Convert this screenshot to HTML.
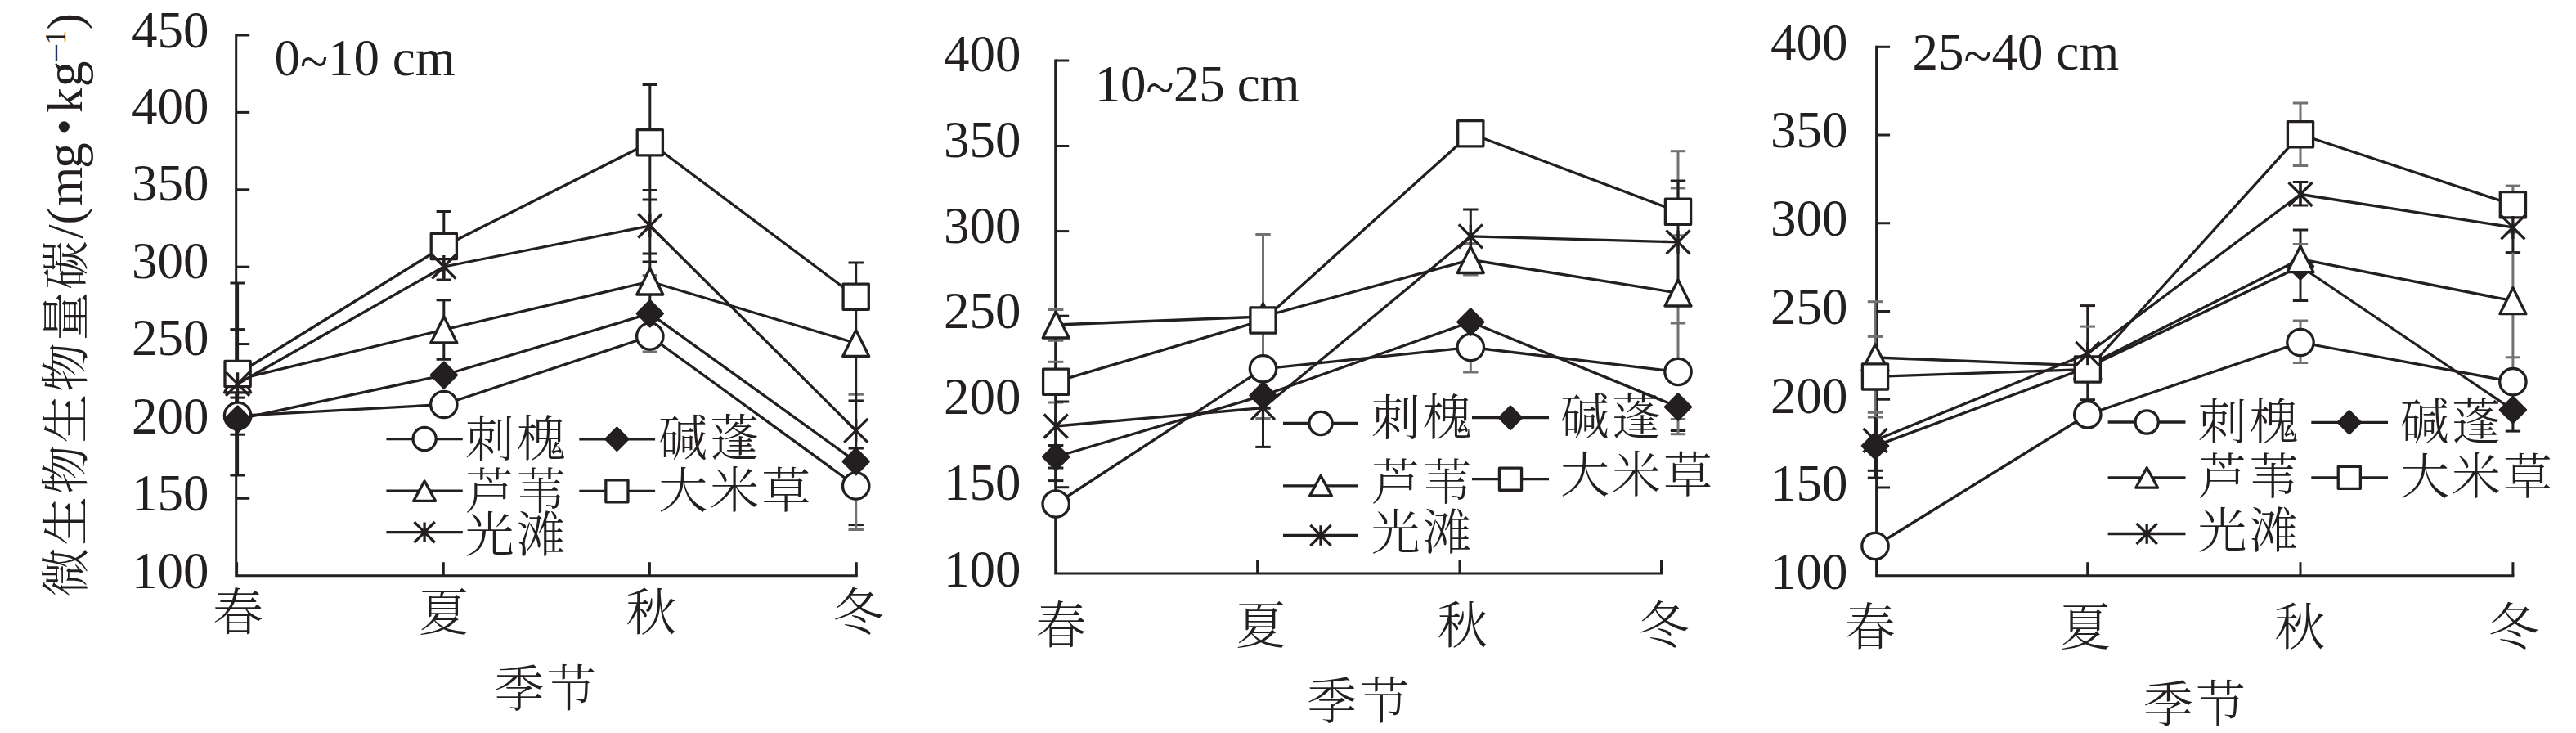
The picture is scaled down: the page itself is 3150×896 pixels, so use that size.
<!DOCTYPE html>
<html lang="zh-CN">
<head>
<meta charset="utf-8">
<title>不同季节土壤微生物生物量碳</title>
<style>
html,body{margin:0;padding:0;background:#fff;}
body{width:3150px;height:896px;overflow:hidden;}
svg{display:block;}
text{white-space:pre;}
</style>
</head>
<body>
<svg width="3150" height="896" viewBox="0 0 3150 896">
<rect width="3150" height="896" fill="#fff"/>
<g>
<path d="M288.7 41.5V703.7H1048.8" fill="none" stroke="#231f20" stroke-width="3" stroke-linejoin="miter"/>
<line x1="290.6" y1="346" x2="290.6" y2="581" stroke="#231f20" stroke-width="3"/>
<line x1="281.4" y1="346" x2="299.8" y2="346" stroke="#231f20" stroke-width="3"/>
<line x1="281.4" y1="402.6" x2="299.8" y2="402.6" stroke="#231f20" stroke-width="3"/>
<line x1="281.4" y1="486.1" x2="299.8" y2="486.1" stroke="#231f20" stroke-width="3"/>
<line x1="281.4" y1="531.2" x2="299.8" y2="531.2" stroke="#231f20" stroke-width="3"/>
<line x1="281.4" y1="581" x2="299.8" y2="581" stroke="#231f20" stroke-width="3"/>
<line x1="542.8" y1="258.5" x2="542.8" y2="342" stroke="#231f20" stroke-width="3"/>
<line x1="533.6" y1="258.5" x2="552" y2="258.5" stroke="#231f20" stroke-width="3"/>
<line x1="533.6" y1="342" x2="552" y2="342" stroke="#231f20" stroke-width="3"/>
<line x1="542.8" y1="366.8" x2="542.8" y2="439.3" stroke="#231f20" stroke-width="3"/>
<line x1="533.6" y1="366.8" x2="552" y2="366.8" stroke="#231f20" stroke-width="3"/>
<line x1="533.6" y1="439.3" x2="552" y2="439.3" stroke="#231f20" stroke-width="3"/>
<line x1="794.8" y1="103.5" x2="794.8" y2="400" stroke="#231f20" stroke-width="3"/>
<line x1="785.6" y1="103.5" x2="804" y2="103.5" stroke="#231f20" stroke-width="3"/>
<line x1="785.6" y1="232.5" x2="804" y2="232.5" stroke="#231f20" stroke-width="3"/>
<line x1="785.6" y1="244" x2="804" y2="244" stroke="#231f20" stroke-width="3"/>
<line x1="785.6" y1="310" x2="804" y2="310" stroke="#231f20" stroke-width="3"/>
<line x1="785.6" y1="320" x2="804" y2="320" stroke="#231f20" stroke-width="3"/>
<line x1="785.6" y1="336.5" x2="804" y2="336.5" stroke="#717173" stroke-width="3"/>
<line x1="794.8" y1="411" x2="794.8" y2="430" stroke="#717173" stroke-width="3"/>
<line x1="785.6" y1="430" x2="804" y2="430" stroke="#717173" stroke-width="3"/>
<line x1="1037.5" y1="482.2" x2="1055.9" y2="482.2" stroke="#717173" stroke-width="3"/>
<line x1="1046.7" y1="321" x2="1046.7" y2="594" stroke="#231f20" stroke-width="3"/>
<line x1="1037.5" y1="321" x2="1055.9" y2="321" stroke="#231f20" stroke-width="3"/>
<line x1="1037.5" y1="489.9" x2="1055.9" y2="489.9" stroke="#231f20" stroke-width="3"/>
<line x1="1037.5" y1="548" x2="1055.9" y2="548" stroke="#231f20" stroke-width="3"/>
<line x1="1037.5" y1="641.6" x2="1055.9" y2="641.6" stroke="#231f20" stroke-width="3"/>
<line x1="1046.7" y1="594" x2="1046.7" y2="647.5" stroke="#717173" stroke-width="3"/>
<line x1="1037.5" y1="647.5" x2="1055.9" y2="647.5" stroke="#717173" stroke-width="3"/>
<text x="255.5" y="719" font-size="63" font-family='"Liberation Serif",serif' text-anchor="end" fill="#231f20">100</text>
<line x1="288.7" y1="609.31" x2="305.2" y2="609.31" stroke="#231f20" stroke-width="3"/>
<text x="255.5" y="624" font-size="63" font-family='"Liberation Serif",serif' text-anchor="end" fill="#231f20">150</text>
<line x1="288.7" y1="514.93" x2="305.2" y2="514.93" stroke="#231f20" stroke-width="3"/>
<text x="255.5" y="530" font-size="63" font-family='"Liberation Serif",serif' text-anchor="end" fill="#231f20">200</text>
<line x1="288.7" y1="420.54" x2="305.2" y2="420.54" stroke="#231f20" stroke-width="3"/>
<text x="255.5" y="434" font-size="63" font-family='"Liberation Serif",serif' text-anchor="end" fill="#231f20">250</text>
<line x1="288.7" y1="326.16" x2="305.2" y2="326.16" stroke="#231f20" stroke-width="3"/>
<text x="255.5" y="340" font-size="63" font-family='"Liberation Serif",serif' text-anchor="end" fill="#231f20">300</text>
<line x1="288.7" y1="231.77" x2="305.2" y2="231.77" stroke="#231f20" stroke-width="3"/>
<text x="255.5" y="245" font-size="63" font-family='"Liberation Serif",serif' text-anchor="end" fill="#231f20">350</text>
<line x1="288.7" y1="137.39" x2="305.2" y2="137.39" stroke="#231f20" stroke-width="3"/>
<text x="255.5" y="151" font-size="63" font-family='"Liberation Serif",serif' text-anchor="end" fill="#231f20">400</text>
<line x1="288.7" y1="43" x2="305.2" y2="43" stroke="#231f20" stroke-width="3"/>
<text x="255.5" y="57.5" font-size="63" font-family='"Liberation Serif",serif' text-anchor="end" fill="#231f20">450</text>
<line x1="289.6" y1="703.7" x2="289.6" y2="687.2" stroke="#231f20" stroke-width="3"/>
<line x1="542.3" y1="703.7" x2="542.3" y2="687.2" stroke="#231f20" stroke-width="3"/>
<line x1="794.4" y1="703.7" x2="794.4" y2="687.2" stroke="#231f20" stroke-width="3"/>
<line x1="1047.3" y1="703.7" x2="1047.3" y2="687.2" stroke="#231f20" stroke-width="3"/>
<text x="290.9" y="771.3" font-size="62" font-family='"Liberation Serif","Noto Serif CJK SC",serif' text-anchor="middle" fill="#231f20" font-weight="300">春</text>
<text x="542.8" y="771.3" font-size="62" font-family='"Liberation Serif","Noto Serif CJK SC",serif' text-anchor="middle" fill="#231f20" font-weight="300">夏</text>
<text x="796.2" y="771.3" font-size="62" font-family='"Liberation Serif","Noto Serif CJK SC",serif' text-anchor="middle" fill="#231f20" font-weight="300">秋</text>
<text x="1049.6" y="771.3" font-size="62" font-family='"Liberation Serif","Noto Serif CJK SC",serif' text-anchor="middle" fill="#231f20" font-weight="300">冬</text>
<text x="335.5" y="92.3" font-size="63" font-family='"Liberation Serif",serif' text-anchor="start" fill="#231f20">0<tspan dy="5">~</tspan><tspan dy="-5">10 cm</tspan></text>
<text x="668.6" y="863.5" font-size="61" font-family='"Liberation Serif","Noto Serif CJK SC",serif' text-anchor="middle" fill="#231f20" letter-spacing="3" font-weight="300">季节</text>
<polyline points="290.6,508.3 542.8,494.5 794.8,411 1046.7,594" fill="none" stroke="#231f20" stroke-width="3.3" stroke-linejoin="round"/>
<circle cx="290.6" cy="508.3" r="16.2" fill="#fff" stroke="#231f20" stroke-width="3.3"/>
<circle cx="542.8" cy="494.5" r="16.2" fill="#fff" stroke="#231f20" stroke-width="3.3"/>
<circle cx="794.8" cy="411" r="16.2" fill="#fff" stroke="#231f20" stroke-width="3.3"/>
<circle cx="1046.7" cy="594" r="16.2" fill="#fff" stroke="#231f20" stroke-width="3.3"/>
<polyline points="290.6,512.6 542.8,458.5 794.8,383.2 1046.7,564.3" fill="none" stroke="#231f20" stroke-width="3.3" stroke-linejoin="round"/>
<path d="M290.6 496.9L306.3 512.6L290.6 528.3L274.9 512.6z" fill="#231f20" stroke="#231f20" stroke-width="3" stroke-linejoin="round"/>
<path d="M542.8 442.8L558.5 458.5L542.8 474.2L527.1 458.5z" fill="#231f20" stroke="#231f20" stroke-width="3" stroke-linejoin="round"/>
<path d="M794.8 367.5L810.5 383.2L794.8 398.9L779.1 383.2z" fill="#231f20" stroke="#231f20" stroke-width="3" stroke-linejoin="round"/>
<path d="M1046.7 548.6L1062.4 564.3L1046.7 580L1031 564.3z" fill="#231f20" stroke="#231f20" stroke-width="3" stroke-linejoin="round"/>
<polyline points="290.6,463.8 542.8,403 794.8,344 1046.7,419.5" fill="none" stroke="#231f20" stroke-width="3.3" stroke-linejoin="round"/>
<path d="M290.6 447.8L306.6 479.8L274.6 479.8z" fill="#fff" stroke="#231f20" stroke-width="3.3" stroke-linejoin="round"/>
<path d="M542.8 387L558.8 419L526.8 419z" fill="#fff" stroke="#231f20" stroke-width="3.3" stroke-linejoin="round"/>
<path d="M794.8 328L810.8 360L778.8 360z" fill="#fff" stroke="#231f20" stroke-width="3.3" stroke-linejoin="round"/>
<path d="M1046.7 403.5L1062.7 435.5L1030.7 435.5z" fill="#fff" stroke="#231f20" stroke-width="3.3" stroke-linejoin="round"/>
<polyline points="290.6,457 542.8,301 794.8,174.2 1046.7,362.7" fill="none" stroke="#231f20" stroke-width="3.3" stroke-linejoin="round"/>
<rect x="275" y="441.4" width="31.2" height="31.2" fill="#fff" stroke="#231f20" stroke-width="3.3" stroke-linejoin="round"/>
<rect x="527.2" y="285.4" width="31.2" height="31.2" fill="#fff" stroke="#231f20" stroke-width="3.3" stroke-linejoin="round"/>
<rect x="779.2" y="158.6" width="31.2" height="31.2" fill="#fff" stroke="#231f20" stroke-width="3.3" stroke-linejoin="round"/>
<rect x="1031.1" y="347.1" width="31.2" height="31.2" fill="#fff" stroke="#231f20" stroke-width="3.3" stroke-linejoin="round"/>
<polyline points="290.6,469.3 542.8,326 794.8,276 1046.7,526.3" fill="none" stroke="#231f20" stroke-width="3.3" stroke-linejoin="round"/>
<path d="M276.1 454.8L305.1 483.8M276.1 483.8L305.1 454.8M290.6 455.3L290.6 483.3" fill="none" stroke="#231f20" stroke-width="3.3"/>
<path d="M528.3 311.5L557.3 340.5M528.3 340.5L557.3 311.5M542.8 312L542.8 340" fill="none" stroke="#231f20" stroke-width="3.3"/>
<path d="M780.3 261.5L809.3 290.5M780.3 290.5L809.3 261.5M794.8 262L794.8 290" fill="none" stroke="#231f20" stroke-width="3.3"/>
<path d="M1032.2 511.8L1061.2 540.8M1032.2 540.8L1061.2 511.8M1046.7 512.3L1046.7 540.3" fill="none" stroke="#231f20" stroke-width="3.3"/>
<line x1="472.4" y1="536.6" x2="565.8" y2="536.6" stroke="#231f20" stroke-width="3.3"/>
<circle cx="519.1" cy="536.6" r="14.09" fill="#fff" stroke="#231f20" stroke-width="3.3"/>
<text x="568.7" y="557.5" font-size="60" font-family='"Liberation Serif","Noto Serif CJK SC",serif' text-anchor="start" fill="#231f20" letter-spacing="3" font-weight="300">刺槐</text>
<line x1="472.4" y1="600.2" x2="565.8" y2="600.2" stroke="#231f20" stroke-width="3.3"/>
<path d="M519.1 588L532.5 612.4L505.7 612.4z" fill="#fff" stroke="#231f20" stroke-width="3.3" stroke-linejoin="round"/>
<text x="568.7" y="621.8" font-size="60" font-family='"Liberation Serif","Noto Serif CJK SC",serif' text-anchor="start" fill="#231f20" letter-spacing="3" font-weight="300">芦苇</text>
<line x1="472.4" y1="650.6" x2="565.8" y2="650.6" stroke="#231f20" stroke-width="3.3"/>
<path d="M506.49 637.99L531.72 663.22M506.49 663.22L531.72 637.99M519.1 638.42L519.1 662.78" fill="none" stroke="#231f20" stroke-width="3.3"/>
<text x="568.7" y="675" font-size="60" font-family='"Liberation Serif","Noto Serif CJK SC",serif' text-anchor="start" fill="#231f20" letter-spacing="3" font-weight="300">光滩</text>
<line x1="708.3" y1="536.8" x2="801.1" y2="536.8" stroke="#231f20" stroke-width="3.3"/>
<path d="M754.4 523.14L768.06 536.8L754.4 550.46L740.74 536.8z" fill="#231f20" stroke="#231f20" stroke-width="3" stroke-linejoin="round"/>
<text x="805.3" y="557" font-size="60" font-family='"Liberation Serif","Noto Serif CJK SC",serif' text-anchor="start" fill="#231f20" letter-spacing="3" font-weight="300">碱蓬</text>
<line x1="708.3" y1="600.3" x2="801.1" y2="600.3" stroke="#231f20" stroke-width="3.3"/>
<rect x="740.83" y="586.73" width="27.14" height="27.14" fill="#fff" stroke="#231f20" stroke-width="3.3" stroke-linejoin="round"/>
<text x="805.3" y="621.3" font-size="60" font-family='"Liberation Serif","Noto Serif CJK SC",serif' text-anchor="start" fill="#231f20" letter-spacing="3" font-weight="300">大米草</text>
</g>
<g>
<path d="M1290.7 72.5V701H2033" fill="none" stroke="#231f20" stroke-width="3" stroke-linejoin="miter"/>
<line x1="1282" y1="378.5" x2="1300.4" y2="378.5" stroke="#717173" stroke-width="3"/>
<line x1="1282" y1="416.3" x2="1300.4" y2="416.3" stroke="#717173" stroke-width="3"/>
<line x1="1282" y1="442.3" x2="1300.4" y2="442.3" stroke="#717173" stroke-width="3"/>
<line x1="1282" y1="492" x2="1300.4" y2="492" stroke="#717173" stroke-width="3"/>
<line x1="1291.2" y1="443.5" x2="1291.2" y2="595" stroke="#231f20" stroke-width="3"/>
<line x1="1282" y1="544.5" x2="1300.4" y2="544.5" stroke="#231f20" stroke-width="3"/>
<line x1="1282" y1="572" x2="1300.4" y2="572" stroke="#231f20" stroke-width="3"/>
<line x1="1282" y1="587.6" x2="1300.4" y2="587.6" stroke="#231f20" stroke-width="3"/>
<line x1="1544.5" y1="286.5" x2="1544.5" y2="511.5" stroke="#717173" stroke-width="3"/>
<line x1="1535.3" y1="286.5" x2="1553.7" y2="286.5" stroke="#717173" stroke-width="3"/>
<line x1="1535.3" y1="511.5" x2="1553.7" y2="511.5" stroke="#717173" stroke-width="3"/>
<line x1="1544.5" y1="483.5" x2="1544.5" y2="546.4" stroke="#231f20" stroke-width="3"/>
<line x1="1535.3" y1="499.2" x2="1553.7" y2="499.2" stroke="#231f20" stroke-width="3"/>
<line x1="1535.3" y1="546.4" x2="1553.7" y2="546.4" stroke="#231f20" stroke-width="3"/>
<line x1="1798.3" y1="256" x2="1798.3" y2="290" stroke="#231f20" stroke-width="3"/>
<line x1="1789.1" y1="256" x2="1807.5" y2="256" stroke="#231f20" stroke-width="3"/>
<line x1="1789.1" y1="297.5" x2="1807.5" y2="297.5" stroke="#717173" stroke-width="3"/>
<line x1="1798.3" y1="317" x2="1798.3" y2="336" stroke="#717173" stroke-width="3"/>
<line x1="1789.1" y1="336" x2="1807.5" y2="336" stroke="#717173" stroke-width="3"/>
<line x1="1798.3" y1="424.5" x2="1798.3" y2="455" stroke="#717173" stroke-width="3"/>
<line x1="1789.1" y1="455" x2="1807.5" y2="455" stroke="#717173" stroke-width="3"/>
<line x1="2052" y1="184.7" x2="2052" y2="258" stroke="#717173" stroke-width="3"/>
<line x1="2042.8" y1="184.7" x2="2061.2" y2="184.7" stroke="#717173" stroke-width="3"/>
<line x1="2042.8" y1="229.9" x2="2061.2" y2="229.9" stroke="#717173" stroke-width="3"/>
<line x1="2042.8" y1="287.8" x2="2061.2" y2="287.8" stroke="#717173" stroke-width="3"/>
<line x1="2052" y1="221" x2="2052" y2="358" stroke="#231f20" stroke-width="3"/>
<line x1="2042.8" y1="221" x2="2061.2" y2="221" stroke="#231f20" stroke-width="3"/>
<line x1="2052" y1="358" x2="2052" y2="454.5" stroke="#717173" stroke-width="3"/>
<line x1="2042.8" y1="395" x2="2061.2" y2="395" stroke="#717173" stroke-width="3"/>
<line x1="2042.8" y1="526.5" x2="2061.2" y2="526.5" stroke="#231f20" stroke-width="3"/>
<line x1="2052" y1="497.5" x2="2052" y2="530.7" stroke="#717173" stroke-width="3"/>
<line x1="2042.8" y1="512.5" x2="2061.2" y2="512.5" stroke="#717173" stroke-width="3"/>
<line x1="2042.8" y1="530.7" x2="2061.2" y2="530.7" stroke="#717173" stroke-width="3"/>
<text x="1248.5" y="717.2" font-size="63" font-family='"Liberation Serif",serif' text-anchor="end" fill="#231f20">100</text>
<line x1="1290.7" y1="595.7" x2="1307.2" y2="595.7" stroke="#231f20" stroke-width="3"/>
<text x="1248.5" y="610.9" font-size="63" font-family='"Liberation Serif",serif' text-anchor="end" fill="#231f20">150</text>
<line x1="1290.7" y1="491" x2="1307.2" y2="491" stroke="#231f20" stroke-width="3"/>
<text x="1248.5" y="506.3" font-size="63" font-family='"Liberation Serif",serif' text-anchor="end" fill="#231f20">200</text>
<line x1="1290.7" y1="386.2" x2="1307.2" y2="386.2" stroke="#231f20" stroke-width="3"/>
<text x="1248.5" y="401.2" font-size="63" font-family='"Liberation Serif",serif' text-anchor="end" fill="#231f20">250</text>
<line x1="1290.7" y1="282.6" x2="1307.2" y2="282.6" stroke="#231f20" stroke-width="3"/>
<text x="1248.5" y="296.8" font-size="63" font-family='"Liberation Serif",serif' text-anchor="end" fill="#231f20">300</text>
<line x1="1290.7" y1="178.5" x2="1307.2" y2="178.5" stroke="#231f20" stroke-width="3"/>
<text x="1248.5" y="191.8" font-size="63" font-family='"Liberation Serif",serif' text-anchor="end" fill="#231f20">350</text>
<line x1="1290.7" y1="74" x2="1307.2" y2="74" stroke="#231f20" stroke-width="3"/>
<text x="1248.5" y="86.9" font-size="63" font-family='"Liberation Serif",serif' text-anchor="end" fill="#231f20">400</text>
<line x1="1291.6" y1="701" x2="1291.6" y2="684.5" stroke="#231f20" stroke-width="3"/>
<line x1="1537.6" y1="701" x2="1537.6" y2="684.5" stroke="#231f20" stroke-width="3"/>
<line x1="1785" y1="701" x2="1785" y2="684.5" stroke="#231f20" stroke-width="3"/>
<line x1="2031.5" y1="701" x2="2031.5" y2="684.5" stroke="#231f20" stroke-width="3"/>
<text x="1297.4" y="787" font-size="62" font-family='"Liberation Serif","Noto Serif CJK SC",serif' text-anchor="middle" fill="#231f20" font-weight="300">春</text>
<text x="1541.9" y="787" font-size="62" font-family='"Liberation Serif","Noto Serif CJK SC",serif' text-anchor="middle" fill="#231f20" font-weight="300">夏</text>
<text x="1788.5" y="787" font-size="62" font-family='"Liberation Serif","Noto Serif CJK SC",serif' text-anchor="middle" fill="#231f20" font-weight="300">秋</text>
<text x="2034.5" y="787" font-size="62" font-family='"Liberation Serif","Noto Serif CJK SC",serif' text-anchor="middle" fill="#231f20" font-weight="300">冬</text>
<text x="1338.8" y="123.8" font-size="63" font-family='"Liberation Serif",serif' text-anchor="start" fill="#231f20" letter-spacing="-0.3">10<tspan dy="5">~</tspan><tspan dy="-5">25 cm</tspan></text>
<text x="1662.2" y="879" font-size="61" font-family='"Liberation Serif","Noto Serif CJK SC",serif' text-anchor="middle" fill="#231f20" letter-spacing="3" font-weight="300">季节</text>
<polyline points="1291.2,616 1544.5,450.8 1798.3,424.5 2052,454.5" fill="none" stroke="#231f20" stroke-width="3.3" stroke-linejoin="round"/>
<circle cx="1291.2" cy="616" r="16.2" fill="#fff" stroke="#231f20" stroke-width="3.3"/>
<circle cx="1544.5" cy="450.8" r="16.2" fill="#fff" stroke="#231f20" stroke-width="3.3"/>
<circle cx="1798.3" cy="424.5" r="16.2" fill="#fff" stroke="#231f20" stroke-width="3.3"/>
<circle cx="2052" cy="454.5" r="16.2" fill="#fff" stroke="#231f20" stroke-width="3.3"/>
<polyline points="1291.2,558.5 1544.5,483.5 1798.3,393.5 2052,497.5" fill="none" stroke="#231f20" stroke-width="3.3" stroke-linejoin="round"/>
<path d="M1291.2 542.8L1306.9 558.5L1291.2 574.2L1275.5 558.5z" fill="#231f20" stroke="#231f20" stroke-width="3" stroke-linejoin="round"/>
<path d="M1544.5 467.8L1560.2 483.5L1544.5 499.2L1528.8 483.5z" fill="#231f20" stroke="#231f20" stroke-width="3" stroke-linejoin="round"/>
<path d="M1798.3 377.8L1814 393.5L1798.3 409.2L1782.6 393.5z" fill="#231f20" stroke="#231f20" stroke-width="3" stroke-linejoin="round"/>
<path d="M2052 481.8L2067.7 497.5L2052 513.2L2036.3 497.5z" fill="#231f20" stroke="#231f20" stroke-width="3" stroke-linejoin="round"/>
<polyline points="1291.2,397 1544.5,387 1798.3,317.5 2052,358" fill="none" stroke="#231f20" stroke-width="3.3" stroke-linejoin="round"/>
<path d="M1291.2 381L1307.2 413L1275.2 413z" fill="#fff" stroke="#231f20" stroke-width="3.3" stroke-linejoin="round"/>
<path d="M1544.5 371L1560.5 403L1528.5 403z" fill="#fff" stroke="#231f20" stroke-width="3.3" stroke-linejoin="round"/>
<path d="M1798.3 301.5L1814.3 333.5L1782.3 333.5z" fill="#fff" stroke="#231f20" stroke-width="3.3" stroke-linejoin="round"/>
<path d="M2052 342L2068 374L2036 374z" fill="#fff" stroke="#231f20" stroke-width="3.3" stroke-linejoin="round"/>
<polyline points="1291.2,466.7 1544.5,391.5 1798.3,163.2 2052,258.8" fill="none" stroke="#231f20" stroke-width="3.3" stroke-linejoin="round"/>
<rect x="1275.6" y="451.1" width="31.2" height="31.2" fill="#fff" stroke="#231f20" stroke-width="3.3" stroke-linejoin="round"/>
<rect x="1528.9" y="375.9" width="31.2" height="31.2" fill="#fff" stroke="#231f20" stroke-width="3.3" stroke-linejoin="round"/>
<rect x="1782.7" y="147.6" width="31.2" height="31.2" fill="#fff" stroke="#231f20" stroke-width="3.3" stroke-linejoin="round"/>
<rect x="2036.4" y="243.2" width="31.2" height="31.2" fill="#fff" stroke="#231f20" stroke-width="3.3" stroke-linejoin="round"/>
<polyline points="1291.2,521 1544.5,498.6 1798.3,288.8 2052,295.8" fill="none" stroke="#231f20" stroke-width="3.3" stroke-linejoin="round"/>
<path d="M1276.7 506.5L1305.7 535.5M1276.7 535.5L1305.7 506.5M1291.2 507L1291.2 535" fill="none" stroke="#231f20" stroke-width="3.3"/>
<path d="M1530 484.1L1559 513.1M1530 513.1L1559 484.1M1544.5 484.6L1544.5 512.6" fill="none" stroke="#231f20" stroke-width="3.3"/>
<path d="M1783.8 274.3L1812.8 303.3M1783.8 303.3L1812.8 274.3M1798.3 274.8L1798.3 302.8" fill="none" stroke="#231f20" stroke-width="3.3"/>
<path d="M2037.5 281.3L2066.5 310.3M2037.5 310.3L2066.5 281.3M2052 281.8L2052 309.8" fill="none" stroke="#231f20" stroke-width="3.3"/>
<line x1="1569" y1="517.5" x2="1661" y2="517.5" stroke="#231f20" stroke-width="3.3"/>
<circle cx="1615" cy="517.5" r="14.09" fill="#fff" stroke="#231f20" stroke-width="3.3"/>
<text x="1676.8" y="531.8" font-size="60" font-family='"Liberation Serif","Noto Serif CJK SC",serif' text-anchor="start" fill="#231f20" letter-spacing="3" font-weight="300">刺槐</text>
<line x1="1569" y1="593.8" x2="1661" y2="593.8" stroke="#231f20" stroke-width="3.3"/>
<path d="M1615 581.6L1628.4 606L1601.6 606z" fill="#fff" stroke="#231f20" stroke-width="3.3" stroke-linejoin="round"/>
<text x="1676.8" y="610.5" font-size="60" font-family='"Liberation Serif","Noto Serif CJK SC",serif' text-anchor="start" fill="#231f20" letter-spacing="3" font-weight="300">芦苇</text>
<line x1="1569" y1="654.5" x2="1661" y2="654.5" stroke="#231f20" stroke-width="3.3"/>
<path d="M1602.38 641.88L1627.62 667.12M1602.38 667.12L1627.62 641.88M1615 642.32L1615 666.68" fill="none" stroke="#231f20" stroke-width="3.3"/>
<text x="1676.8" y="671.5" font-size="60" font-family='"Liberation Serif","Noto Serif CJK SC",serif' text-anchor="start" fill="#231f20" letter-spacing="3" font-weight="300">光滩</text>
<line x1="1800" y1="510.7" x2="1894" y2="510.7" stroke="#231f20" stroke-width="3.3"/>
<path d="M1847 497.04L1860.66 510.7L1847 524.36L1833.34 510.7z" fill="#231f20" stroke="#231f20" stroke-width="3" stroke-linejoin="round"/>
<text x="1908" y="530.5" font-size="60" font-family='"Liberation Serif","Noto Serif CJK SC",serif' text-anchor="start" fill="#231f20" letter-spacing="3" font-weight="300">碱蓬</text>
<line x1="1800" y1="585.7" x2="1894" y2="585.7" stroke="#231f20" stroke-width="3.3"/>
<rect x="1833.43" y="572.13" width="27.14" height="27.14" fill="#fff" stroke="#231f20" stroke-width="3.3" stroke-linejoin="round"/>
<text x="1908" y="602" font-size="60" font-family='"Liberation Serif","Noto Serif CJK SC",serif' text-anchor="start" fill="#231f20" letter-spacing="3" font-weight="300">大米草</text>
</g>
<g>
<path d="M2294.6 55.8V703.7H3074.4" fill="none" stroke="#231f20" stroke-width="3" stroke-linejoin="miter"/>
<line x1="2293" y1="368.7" x2="2293" y2="510" stroke="#717173" stroke-width="3"/>
<line x1="2283.8" y1="368.7" x2="2302.2" y2="368.7" stroke="#717173" stroke-width="3"/>
<line x1="2283.8" y1="411.4" x2="2302.2" y2="411.4" stroke="#717173" stroke-width="3"/>
<line x1="2283.8" y1="504.3" x2="2302.2" y2="504.3" stroke="#717173" stroke-width="3"/>
<line x1="2283.8" y1="510" x2="2302.2" y2="510" stroke="#717173" stroke-width="3"/>
<line x1="2293" y1="510" x2="2293" y2="584.1" stroke="#231f20" stroke-width="3"/>
<line x1="2283.8" y1="575.3" x2="2302.2" y2="575.3" stroke="#231f20" stroke-width="3"/>
<line x1="2283.8" y1="584.1" x2="2302.2" y2="584.1" stroke="#231f20" stroke-width="3"/>
<line x1="2552.8" y1="373.6" x2="2552.8" y2="488.7" stroke="#231f20" stroke-width="3"/>
<line x1="2543.6" y1="373.6" x2="2562" y2="373.6" stroke="#231f20" stroke-width="3"/>
<line x1="2543.6" y1="488.7" x2="2562" y2="488.7" stroke="#231f20" stroke-width="3"/>
<line x1="2543.6" y1="399.1" x2="2562" y2="399.1" stroke="#717173" stroke-width="3"/>
<line x1="2813" y1="126" x2="2813" y2="202.5" stroke="#717173" stroke-width="3"/>
<line x1="2803.8" y1="126" x2="2822.2" y2="126" stroke="#717173" stroke-width="3"/>
<line x1="2803.8" y1="202.5" x2="2822.2" y2="202.5" stroke="#717173" stroke-width="3"/>
<line x1="2813" y1="222.5" x2="2813" y2="251" stroke="#231f20" stroke-width="3"/>
<line x1="2803.8" y1="222.5" x2="2822.2" y2="222.5" stroke="#231f20" stroke-width="3"/>
<line x1="2803.8" y1="251" x2="2822.2" y2="251" stroke="#231f20" stroke-width="3"/>
<line x1="2813" y1="281" x2="2813" y2="367.5" stroke="#231f20" stroke-width="3"/>
<line x1="2803.8" y1="281" x2="2822.2" y2="281" stroke="#231f20" stroke-width="3"/>
<line x1="2803.8" y1="367.5" x2="2822.2" y2="367.5" stroke="#231f20" stroke-width="3"/>
<line x1="2803.8" y1="298.5" x2="2822.2" y2="298.5" stroke="#717173" stroke-width="3"/>
<line x1="2813" y1="392" x2="2813" y2="443.5" stroke="#717173" stroke-width="3"/>
<line x1="2803.8" y1="392" x2="2822.2" y2="392" stroke="#717173" stroke-width="3"/>
<line x1="2803.8" y1="443.5" x2="2822.2" y2="443.5" stroke="#717173" stroke-width="3"/>
<line x1="3072.9" y1="227.1" x2="3072.9" y2="250" stroke="#717173" stroke-width="3"/>
<line x1="3063.7" y1="227.1" x2="3082.1" y2="227.1" stroke="#717173" stroke-width="3"/>
<line x1="3063.7" y1="284" x2="3082.1" y2="284" stroke="#717173" stroke-width="3"/>
<line x1="3072.9" y1="278" x2="3072.9" y2="308.6" stroke="#231f20" stroke-width="3"/>
<line x1="3063.7" y1="308.6" x2="3082.1" y2="308.6" stroke="#231f20" stroke-width="3"/>
<line x1="3072.9" y1="308.6" x2="3072.9" y2="466" stroke="#717173" stroke-width="3"/>
<line x1="3063.7" y1="436.8" x2="3082.1" y2="436.8" stroke="#717173" stroke-width="3"/>
<line x1="3072.9" y1="501" x2="3072.9" y2="527.1" stroke="#231f20" stroke-width="3"/>
<line x1="3063.7" y1="527.1" x2="3082.1" y2="527.1" stroke="#231f20" stroke-width="3"/>
<text x="2259.4" y="720" font-size="63" font-family='"Liberation Serif",serif' text-anchor="end" fill="#231f20">100</text>
<line x1="2294.6" y1="595.97" x2="2311.1" y2="595.97" stroke="#231f20" stroke-width="3"/>
<text x="2259.4" y="612" font-size="63" font-family='"Liberation Serif",serif' text-anchor="end" fill="#231f20">150</text>
<line x1="2294.6" y1="488.23" x2="2311.1" y2="488.23" stroke="#231f20" stroke-width="3"/>
<text x="2259.4" y="504.5" font-size="63" font-family='"Liberation Serif",serif' text-anchor="end" fill="#231f20">200</text>
<line x1="2294.6" y1="380.5" x2="2311.1" y2="380.5" stroke="#231f20" stroke-width="3"/>
<text x="2259.4" y="396" font-size="63" font-family='"Liberation Serif",serif' text-anchor="end" fill="#231f20">250</text>
<line x1="2294.6" y1="272.77" x2="2311.1" y2="272.77" stroke="#231f20" stroke-width="3"/>
<text x="2259.4" y="287.5" font-size="63" font-family='"Liberation Serif",serif' text-anchor="end" fill="#231f20">300</text>
<line x1="2294.6" y1="165.03" x2="2311.1" y2="165.03" stroke="#231f20" stroke-width="3"/>
<text x="2259.4" y="180" font-size="63" font-family='"Liberation Serif",serif' text-anchor="end" fill="#231f20">350</text>
<line x1="2294.6" y1="57.3" x2="2311.1" y2="57.3" stroke="#231f20" stroke-width="3"/>
<text x="2259.4" y="72.5" font-size="63" font-family='"Liberation Serif",serif' text-anchor="end" fill="#231f20">400</text>
<line x1="2295.3" y1="703.7" x2="2295.3" y2="687.2" stroke="#231f20" stroke-width="3"/>
<line x1="2552.7" y1="703.7" x2="2552.7" y2="687.2" stroke="#231f20" stroke-width="3"/>
<line x1="2813" y1="703.7" x2="2813" y2="687.2" stroke="#231f20" stroke-width="3"/>
<line x1="3072.9" y1="703.7" x2="3072.9" y2="687.2" stroke="#231f20" stroke-width="3"/>
<text x="2286.7" y="789.2" font-size="62" font-family='"Liberation Serif","Noto Serif CJK SC",serif' text-anchor="middle" fill="#231f20" font-weight="300">春</text>
<text x="2550" y="789.2" font-size="62" font-family='"Liberation Serif","Noto Serif CJK SC",serif' text-anchor="middle" fill="#231f20" font-weight="300">夏</text>
<text x="2812.3" y="789.2" font-size="62" font-family='"Liberation Serif","Noto Serif CJK SC",serif' text-anchor="middle" fill="#231f20" font-weight="300">秋</text>
<text x="3073.8" y="789.2" font-size="62" font-family='"Liberation Serif","Noto Serif CJK SC",serif' text-anchor="middle" fill="#231f20" font-weight="300">冬</text>
<text x="2338.5" y="84.8" font-size="63" font-family='"Liberation Serif",serif' text-anchor="start" fill="#231f20">25<tspan dy="5">~</tspan><tspan dy="-5">40 cm</tspan></text>
<text x="2684.9" y="883" font-size="61" font-family='"Liberation Serif","Noto Serif CJK SC",serif' text-anchor="middle" fill="#231f20" letter-spacing="3" font-weight="300">季节</text>
<polyline points="2293,667.5 2552.8,506.8 2813,418.5 3072.9,466.7" fill="none" stroke="#231f20" stroke-width="3.3" stroke-linejoin="round"/>
<circle cx="2293" cy="667.5" r="16.2" fill="#fff" stroke="#231f20" stroke-width="3.3"/>
<circle cx="2552.8" cy="506.8" r="16.2" fill="#fff" stroke="#231f20" stroke-width="3.3"/>
<circle cx="2813" cy="418.5" r="16.2" fill="#fff" stroke="#231f20" stroke-width="3.3"/>
<circle cx="3072.9" cy="466.7" r="16.2" fill="#fff" stroke="#231f20" stroke-width="3.3"/>
<polyline points="2293,545.1 2552.8,449 2813,325.5 3072.9,501.1" fill="none" stroke="#231f20" stroke-width="3.3" stroke-linejoin="round"/>
<path d="M2293 529.4L2308.7 545.1L2293 560.8L2277.3 545.1z" fill="#231f20" stroke="#231f20" stroke-width="3" stroke-linejoin="round"/>
<path d="M2552.8 433.3L2568.5 449L2552.8 464.7L2537.1 449z" fill="#231f20" stroke="#231f20" stroke-width="3" stroke-linejoin="round"/>
<path d="M2813 309.8L2828.7 325.5L2813 341.2L2797.3 325.5z" fill="#231f20" stroke="#231f20" stroke-width="3" stroke-linejoin="round"/>
<path d="M3072.9 485.4L3088.6 501.1L3072.9 516.8L3057.2 501.1z" fill="#231f20" stroke="#231f20" stroke-width="3" stroke-linejoin="round"/>
<polyline points="2293,437 2552.8,447 2813,316.7 3072.9,367.7" fill="none" stroke="#231f20" stroke-width="3.3" stroke-linejoin="round"/>
<path d="M2293 421L2309 453L2277 453z" fill="#fff" stroke="#231f20" stroke-width="3.3" stroke-linejoin="round"/>
<path d="M2552.8 431L2568.8 463L2536.8 463z" fill="#fff" stroke="#231f20" stroke-width="3.3" stroke-linejoin="round"/>
<path d="M2813 300.7L2829 332.7L2797 332.7z" fill="#fff" stroke="#231f20" stroke-width="3.3" stroke-linejoin="round"/>
<path d="M3072.9 351.7L3088.9 383.7L3056.9 383.7z" fill="#fff" stroke="#231f20" stroke-width="3.3" stroke-linejoin="round"/>
<polyline points="2293,460.4 2552.8,451.5 2813,164.2 3072.9,250.3" fill="none" stroke="#231f20" stroke-width="3.3" stroke-linejoin="round"/>
<rect x="2277.4" y="444.8" width="31.2" height="31.2" fill="#fff" stroke="#231f20" stroke-width="3.3" stroke-linejoin="round"/>
<rect x="2537.2" y="435.9" width="31.2" height="31.2" fill="#fff" stroke="#231f20" stroke-width="3.3" stroke-linejoin="round"/>
<rect x="2797.4" y="148.6" width="31.2" height="31.2" fill="#fff" stroke="#231f20" stroke-width="3.3" stroke-linejoin="round"/>
<rect x="3057.3" y="234.7" width="31.2" height="31.2" fill="#fff" stroke="#231f20" stroke-width="3.3" stroke-linejoin="round"/>
<polyline points="2293,538.3 2552.8,432.3 2813,237.5 3072.9,277.9" fill="none" stroke="#231f20" stroke-width="3.3" stroke-linejoin="round"/>
<path d="M2278.5 523.8L2307.5 552.8M2278.5 552.8L2307.5 523.8M2293 524.3L2293 552.3" fill="none" stroke="#231f20" stroke-width="3.3"/>
<path d="M2538.3 417.8L2567.3 446.8M2538.3 446.8L2567.3 417.8M2552.8 418.3L2552.8 446.3" fill="none" stroke="#231f20" stroke-width="3.3"/>
<path d="M2798.5 223L2827.5 252M2798.5 252L2827.5 223M2813 223.5L2813 251.5" fill="none" stroke="#231f20" stroke-width="3.3"/>
<path d="M3058.4 263.4L3087.4 292.4M3058.4 292.4L3087.4 263.4M3072.9 263.9L3072.9 291.9" fill="none" stroke="#231f20" stroke-width="3.3"/>
<line x1="2577.6" y1="516" x2="2672.5" y2="516" stroke="#231f20" stroke-width="3.3"/>
<circle cx="2625.2" cy="516" r="14.09" fill="#fff" stroke="#231f20" stroke-width="3.3"/>
<text x="2687.5" y="536.7" font-size="60" font-family='"Liberation Serif","Noto Serif CJK SC",serif' text-anchor="start" fill="#231f20" letter-spacing="3" font-weight="300">刺槐</text>
<line x1="2577.6" y1="584" x2="2672.5" y2="584" stroke="#231f20" stroke-width="3.3"/>
<path d="M2625.2 571.8L2638.6 596.2L2611.8 596.2z" fill="#fff" stroke="#231f20" stroke-width="3.3" stroke-linejoin="round"/>
<text x="2687.5" y="604.3" font-size="60" font-family='"Liberation Serif","Noto Serif CJK SC",serif' text-anchor="start" fill="#231f20" letter-spacing="3" font-weight="300">芦苇</text>
<line x1="2577.6" y1="652.5" x2="2672.5" y2="652.5" stroke="#231f20" stroke-width="3.3"/>
<path d="M2612.59 639.88L2637.81 665.12M2612.59 665.12L2637.81 639.88M2625.2 640.32L2625.2 664.68" fill="none" stroke="#231f20" stroke-width="3.3"/>
<text x="2687.5" y="669.8" font-size="60" font-family='"Liberation Serif","Noto Serif CJK SC",serif' text-anchor="start" fill="#231f20" letter-spacing="3" font-weight="300">光滩</text>
<line x1="2826.3" y1="516.3" x2="2920" y2="516.3" stroke="#231f20" stroke-width="3.3"/>
<path d="M2872.8 502.64L2886.46 516.3L2872.8 529.96L2859.14 516.3z" fill="#231f20" stroke="#231f20" stroke-width="3" stroke-linejoin="round"/>
<text x="2935" y="536.5" font-size="60" font-family='"Liberation Serif","Noto Serif CJK SC",serif' text-anchor="start" fill="#231f20" letter-spacing="3" font-weight="300">碱蓬</text>
<line x1="2826.3" y1="583.8" x2="2920" y2="583.8" stroke="#231f20" stroke-width="3.3"/>
<rect x="2859.23" y="570.23" width="27.14" height="27.14" fill="#fff" stroke="#231f20" stroke-width="3.3" stroke-linejoin="round"/>
<text x="2935" y="604.3" font-size="60" font-family='"Liberation Serif","Noto Serif CJK SC",serif' text-anchor="start" fill="#231f20" letter-spacing="3" font-weight="300">大米草</text>
</g>
<g transform="translate(100 0) rotate(-90)">
<text x="-729.5" y="1.5" font-size="60" font-family='"Liberation Serif","Noto Serif CJK SC",serif' fill="#231f20" letter-spacing="2.6" font-weight="300">微生物生物量碳</text>
<text x="-291.5" y="0" font-size="61.5" font-family='"Liberation Serif",serif' fill="#231f20">/</text>
<text x="-274.6" y="0" font-size="61.5" font-family='"Liberation Serif",serif' fill="#231f20">(</text>
<text x="-251.5" y="0" font-size="61.5" font-family='"Liberation Serif",serif' fill="#231f20">m</text>
<text x="-206" y="0" font-size="63.5" font-family='"Liberation Serif",serif' fill="#231f20">g</text>
<text x="-173.5" y="16.3" font-size="112" font-family='"Liberation Serif",serif' fill="#231f20">·</text>
<text x="-138" y="0" font-size="61.5" font-family='"Liberation Serif",serif' fill="#231f20">k</text>
<text x="-106.3" y="0" font-size="63.5" font-family='"Liberation Serif",serif' fill="#231f20">g</text>
<text x="-77" y="-17.5" font-size="43" font-family='"Liberation Serif",serif' fill="#231f20">−</text>
<text x="-54.5" y="-19.6" font-size="36" font-family='"Liberation Serif",serif' fill="#231f20">1</text>
<text x="-36.5" y="0" font-size="61.5" font-family='"Liberation Serif",serif' fill="#231f20">)</text>
</g>
</svg>
</body>
</html>
